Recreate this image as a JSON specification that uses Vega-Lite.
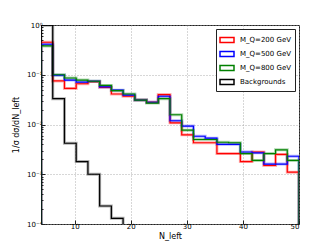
{
  "$schema": "https://vega.github.io/schema/vega-lite/v6.json",
  "width": 258,
  "height": 199,
  "autosize": {"type": "none"},
  "padding": {"left": 41, "top": 25, "right": 33, "bottom": 25},
  "background": "white",
  "config": {
    "view": {"stroke": "#222", "strokeWidth": 1},
    "font": "DejaVu Sans"
  },
  "data": {
    "values": [
      {"i": 0, "x": 4.0, "r": 1e-6, "b": 1e-6, "g": 1e-6, "k": 1e-6},
      {"i": 1, "x": 4.0, "r": 0.45, "b": 0.41, "g": 0.38, "k": 0.99},
      {"i": 2, "x": 6.0909, "r": 0.075, "b": 0.098, "g": 0.1, "k": 0.033},
      {"i": 3, "x": 8.1818, "r": 0.053, "b": 0.078, "g": 0.086, "k": 0.0042},
      {"i": 4, "x": 10.2727, "r": 0.066, "b": 0.071, "g": 0.078, "k": 0.0018},
      {"i": 5, "x": 12.3636, "r": 0.073, "b": 0.074, "g": 0.074, "k": 0.001},
      {"i": 6, "x": 14.4545, "r": 0.056, "b": 0.057, "g": 0.061, "k": 0.00023},
      {"i": 7, "x": 16.5455, "r": 0.041, "b": 0.049, "g": 0.048, "k": 0.00013},
      {"i": 8, "x": 18.6364, "r": 0.037, "b": 0.039, "g": 0.041, "k": 1e-6},
      {"i": 9, "x": 20.7273, "r": 0.031, "b": 0.031, "g": 0.031, "k": null},
      {"i": 10, "x": 22.8182, "r": 0.028, "b": 0.028, "g": 0.027, "k": null},
      {"i": 11, "x": 24.9091, "r": 0.04, "b": 0.037, "g": 0.033, "k": null},
      {"i": 12, "x": 27.0, "r": 0.0108, "b": 0.0119, "g": 0.0157, "k": null},
      {"i": 13, "x": 29.0909, "r": 0.0062, "b": 0.0093, "g": 0.0077, "k": null},
      {"i": 14, "x": 31.1818, "r": 0.0043, "b": 0.0058, "g": 0.005, "k": null},
      {"i": 15, "x": 33.2727, "r": 0.0043, "b": 0.0053, "g": 0.005, "k": null},
      {"i": 16, "x": 35.3636, "r": 0.0026, "b": 0.004, "g": 0.0044, "k": null},
      {"i": 17, "x": 37.4545, "r": 0.0026, "b": 0.004, "g": 0.0043, "k": null},
      {"i": 18, "x": 39.5455, "r": 0.0018, "b": 0.0028, "g": 0.0026, "k": null},
      {"i": 19, "x": 41.6364, "r": 0.0028, "b": 0.0027, "g": 0.0019, "k": null},
      {"i": 20, "x": 43.7273, "r": 0.0015, "b": 0.0016, "g": 0.0026, "k": null},
      {"i": 21, "x": 45.8182, "r": 0.0025, "b": 0.0016, "g": 0.0031, "k": null},
      {"i": 22, "x": 47.9091, "r": 0.0011, "b": 0.0023, "g": 0.0019, "k": null},
      {"i": 23, "x": 50.0, "r": 1e-6, "b": 1e-6, "g": 1e-6, "k": null}
    ]
  },
  "transform": [
    {"fold": ["r", "b", "g", "k"], "as": ["key", "v"]},
    {"lookup": "key", "from": {"data": {"values": [
      {"key": "r", "series": "M_Q=200 GeV"},
      {"key": "b", "series": "M_Q=500 GeV"},
      {"key": "g", "series": "M_Q=800 GeV"},
      {"key": "k", "series": "Backgrounds"}
    ]}, "key": "key", "fields": ["series"]}},
    {"filter": "datum.v != null"}
  ],
  "encoding": {
    "x": {
      "field": "x", "type": "quantitative",
      "scale": {"domain": [4, 50], "nice": false, "zero": false},
      "axis": {
        "values": [10, 20, 30, 40, 50],
        "title": "N_left",
        "titleFontSize": 8, "titleFontWeight": "normal", "titleColor": "#000", "titlePadding": 3,
        "labelFontSize": 7, "labelColor": "#000", "labelPadding": 2,
        "tickSize": -4, "tickColor": "#222",
        "domain": false,
        "grid": true, "gridDash": [1, 2], "gridColor": "#999", "gridWidth": 0.8
      }
    },
    "y": {
      "field": "v", "type": "quantitative",
      "scale": {"type": "log", "domain": [0.0001, 1], "nice": false},
      "axis": {
        "values": [0.0001,0.0002,0.0003,0.0004,0.0005,0.0006,0.0007,0.0008,0.0009,0.001,0.002,0.003,0.004,0.005,0.006,0.007,0.008,0.009,0.01,0.02,0.03,0.04,0.05,0.06,0.07,0.08,0.09,0.1,0.2,0.3,0.4,0.5,0.6,0.7,0.8,0.9,1],
        "labelExpr": "datum.value == 1 ? '10⁰' : datum.value == 0.1 ? '10⁻¹' : datum.value == 0.01 ? '10⁻²' : datum.value == 0.001 ? '10⁻³' : datum.value == 0.0001 ? '10⁻⁴' : ''",
        "title": "1/σ dσ/dN_left",
        "titleFontSize": 8, "titleFontWeight": "normal", "titleColor": "#000", "titlePadding": 6,
        "labelFontSize": 7, "labelColor": "#000", "labelPadding": 3,
        "tickSize": {"condition": {"test": "indexof([1,0.1,0.01,0.001,0.0001], datum.value) >= 0", "value": -4}, "value": -2},
        "tickColor": "#222",
        "domain": false,
        "grid": true, "gridDash": [1, 2], "gridColor": "#999", "gridWidth": 0.8,
        "gridOpacity": {"condition": {"test": "indexof([1,0.1,0.01,0.001,0.0001], datum.value) >= 0", "value": 1}, "value": 0}
      }
    },
    "color": {
      "field": "series", "type": "nominal",
      "scale": {
        "domain": ["M_Q=200 GeV", "M_Q=500 GeV", "M_Q=800 GeV", "Backgrounds"],
        "range": ["#ff0000", "#0000ff", "#008000", "#000000"]
      },
      "legend": {
        "title": null,
        "orient": "top-right",
        "offset": 4,
        "fillColor": "white",
        "strokeColor": "#222",
        "padding": 3,
        "cornerRadius": 0,
        "labelFontSize": 7,
        "labelColor": "#000",
        "labelFont": "DejaVu Sans",
        "symbolType": "M-1,-0.35h2v0.7h-2z",
        "symbolSize": 196,
        "symbolStrokeWidth": 1.5,
        "symbolOpacity": 1,
        "symbolFillColor": "transparent",
        "rowPadding": 0,
        "labelOffset": 5
      }
    },
    "order": {"field": "i", "type": "quantitative"}
  },
  "layer": [
    {"mark": {"type": "line", "interpolate": "step-after", "strokeWidth": 3, "opacity": 0.3, "clip": true}},
    {"mark": {"type": "line", "interpolate": "step-after", "strokeWidth": 1.2, "clip": true}}
  ]
}
